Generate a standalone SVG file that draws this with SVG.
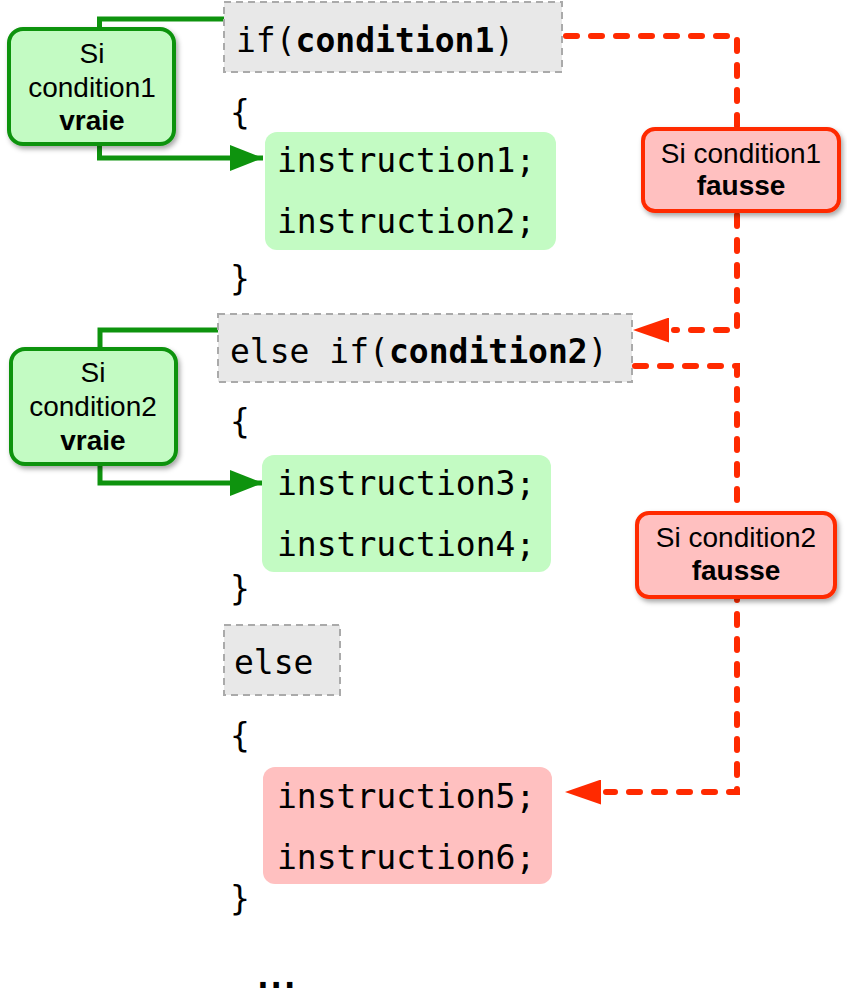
<svg xmlns="http://www.w3.org/2000/svg" width="847" height="1008" viewBox="0 0 847 1008">
<style>
.code{font-family:"DejaVu Sans Mono","Liberation Mono",monospace;font-size:33px;fill:#000}
.b{font-weight:bold}
.lab{font-family:"Liberation Sans",Arial,sans-serif;font-size:28px;fill:#000;text-anchor:middle}
.kw{fill:#e8e8e8;stroke:#aaaaaa;stroke-width:2;stroke-dasharray:7 5}
.gblk{fill:#c3fbc3}
.rblk{fill:#ffc0c0}
.glab{fill:#c3fbc3;stroke:#0e930e;stroke-width:4}
.rlab{fill:#ffc0c0;stroke:#ff2a00;stroke-width:4}
.gline{fill:none;stroke:#0e930e;stroke-width:5}
.rline{fill:none;stroke:#ff2a00;stroke-width:6;stroke-dasharray:11 14;stroke-linecap:round}
</style>
<defs>
<filter id="sh" x="-20%" y="-20%" width="140%" height="140%">
<feDropShadow dx="2" dy="3" stdDeviation="2.5" flood-color="#000" flood-opacity="0.35"/>
</filter>
<marker id="ga" viewBox="0 0 33 26" refX="33" refY="13" markerWidth="33" markerHeight="26" markerUnits="userSpaceOnUse" orient="auto">
<path d="M0,0 L33,13 L0,26 Z" fill="#0e930e"/>
</marker>
<marker id="ra" viewBox="0 0 36 25" refX="36" refY="12.5" markerWidth="36" markerHeight="25" markerUnits="userSpaceOnUse" orient="auto">
<path d="M0,0 L36,12.5 L0,25 Z" fill="#ff2a00"/>
</marker>
</defs>

<g id="connectors">
<path class="gline" d="M99.5,30 V19 H224"/>
<path class="gline" d="M99.5,144 V158 H263" marker-end="url(#ga)"/>
<path class="gline" d="M100,350 V330 H218"/>
<path class="gline" d="M100,465 V483 H263" marker-end="url(#ga)"/>
<path class="rline" d="M566,36 H737 V330 H674"/>
<path d="M669,330 H633" stroke="none" fill="none" marker-end="url(#ra)"/>
<path class="rline" d="M635,366 H737 V792 H606"/>
<path d="M601,792 H565" stroke="none" fill="none" marker-end="url(#ra)"/>
</g>

<g id="if1">
<rect class="kw" x="224" y="2" width="338" height="70"/>
<text class="code" x="236" y="52">if(<tspan class="b">condition1</tspan>)</text>
</g>
<g id="brace1"><text class="code" x="230" y="124">{</text></g>
<g id="block1">
<rect class="gblk" x="265" y="132" width="291" height="118" rx="12"/>
<text class="code" x="277" y="172">instruction1;</text>
<text class="code" x="277" y="233">instruction2;</text>
</g>
<g id="brace2"><text class="code" x="230" y="290">}</text></g>

<g id="elseif">
<rect class="kw" x="218" y="314" width="414" height="68"/>
<text class="code" x="230" y="363">else if(<tspan class="b">condition2</tspan>)</text>
</g>
<g id="brace3"><text class="code" x="230" y="433">{</text></g>
<g id="block2">
<rect class="gblk" x="262" y="455" width="289" height="117" rx="12"/>
<text class="code" x="277" y="495">instruction3;</text>
<text class="code" x="277" y="556">instruction4;</text>
</g>
<g id="brace4"><text class="code" x="230" y="600">}</text></g>

<g id="else">
<rect class="kw" x="224" y="625" width="116" height="70"/>
<text class="code" x="234" y="674">else</text>
</g>
<g id="brace5"><text class="code" x="230" y="747">{</text></g>
<g id="block3">
<rect class="rblk" x="263" y="767" width="289" height="117" rx="12"/>
<text class="code" x="277" y="808">instruction5;</text>
<text class="code" x="277" y="869">instruction6;</text>
</g>
<g id="brace6"><text class="code" x="230" y="910">}</text></g>
<g id="dots"><text class="code b" x="253" y="988" letter-spacing="-6.5">...</text></g>

<g id="vrai1">
<rect class="glab" x="9" y="29" width="165" height="115" rx="14" filter="url(#sh)"/>
<text class="lab" x="92" y="63">Si</text>
<text class="lab" x="92" y="97">condition1</text>
<text class="lab b" x="92" y="130">vraie</text>
</g>
<g id="vrai2">
<rect class="glab" x="11" y="349" width="165" height="115" rx="14" filter="url(#sh)"/>
<text class="lab" x="93" y="382">Si</text>
<text class="lab" x="93" y="416">condition2</text>
<text class="lab b" x="93" y="450">vraie</text>
</g>
<g id="faux1">
<rect class="rlab" x="643" y="129" width="196" height="82" rx="12" filter="url(#sh)"/>
<text class="lab" x="741" y="163">Si condition1</text>
<text class="lab b" x="741" y="195">fausse</text>
</g>
<g id="faux2">
<rect class="rlab" x="637" y="513" width="198" height="84" rx="12" filter="url(#sh)"/>
<text class="lab" x="736" y="547">Si condition2</text>
<text class="lab b" x="736" y="580">fausse</text>
</g>
</svg>
